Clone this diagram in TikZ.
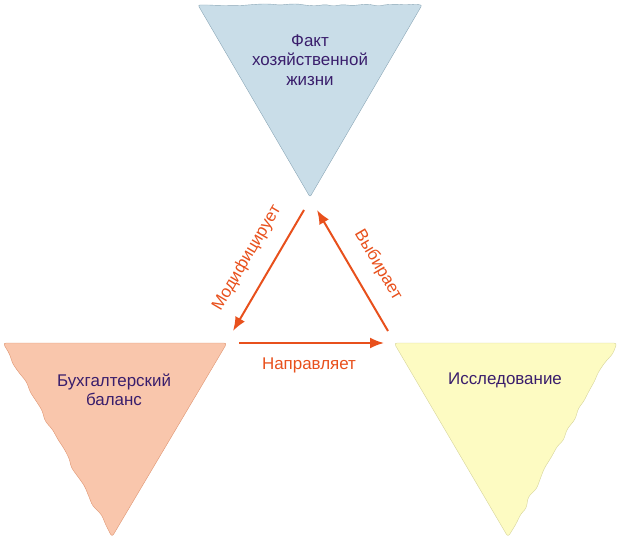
\documentclass[tikz,border=0pt]{standalone}
\usepackage{fontspec}
\setmainfont{Liberation Sans}
\usetikzlibrary{arrows.meta,decorations.pathmorphing}
\definecolor{factFill}{HTML}{C9DDE8}
\definecolor{factLine}{HTML}{8AA6B6}
\definecolor{balFill}{HTML}{F9C6AC}
\definecolor{balLine}{HTML}{DE9470}
\definecolor{resFill}{HTML}{FDFBC2}
\definecolor{resLine}{HTML}{D6D49A}
\definecolor{textPurple}{HTML}{3A1E6C}
\definecolor{arrowRed}{HTML}{E8501C}
\tikzset{
  torn/.style={decoration={random steps,segment length=11bp,amplitude=2.2bp}},
  label/.style={text=textPurple,font=\fontsize{17}{19.5}\selectfont,align=center},
  relation/.style={draw=arrowRed,line width=2bp,-{Latex[length=14bp,width=11bp]}},
  relText/.style={text=arrowRed,font=\fontsize{17}{19.5}\selectfont}
}
\begin{document}
\begin{tikzpicture}[x=1bp,y=-1bp]
\useasboundingbox (0,0) rectangle (622,541);
\pgfmathsetseed{11}
% triangles
\coordinate (F0) at (198,5);
\coordinate (F1) at (422,5);
\coordinate (F2) at (310,197);
\coordinate (B0) at (3,343);
\coordinate (B1) at (227,343);
\coordinate (B2) at (112,537);
\coordinate (R0) at (394,343);
\coordinate (R1) at (617,343);
\coordinate (R2) at (508,537);
\draw [draw=factLine,fill=factFill,rounded corners=2bp] (F2) -- (F0) decorate[torn,decoration={segment length=9bp,amplitude=1.3bp}] {-- (F1)} -- cycle;
\draw [draw=balLine,fill=balFill,rounded corners=3bp] (B1) -- (B0) decorate[torn] {-- (B2)} -- cycle;
\draw [draw=resLine,fill=resFill,rounded corners=3bp] (R0) -- (R1) decorate[torn] {-- (R2)} -- cycle;
\node [label] (fact) at (310,60) {Факт\\хозяйственной\\жизни};
\node [label] (balance) at (114,390) {Бухгалтерский\\баланс};
\node [label] (research) at (505,380) {Исследование};
% arrows
\coordinate (M0) at (304,210);
\coordinate (M1) at (233,331);
\coordinate (V0) at (388,331);
\coordinate (V1) at (317,210);
\coordinate (N0) at (239,343);
\coordinate (N1) at (384,343);
\draw [relation] (M0) -- (M1);
\draw [relation] (V0) -- (V1);
\draw [relation] (N0) -- (N1);
\node [relText,rotate=59.6] (modifies) at (247,258) {Модифицирует};
\node [relText,rotate=-59.6] (selects) at (378,265) {Выбирает};
\node [relText] (directs) at (309,365) {Направляет};
\end{tikzpicture}
\end{document}
